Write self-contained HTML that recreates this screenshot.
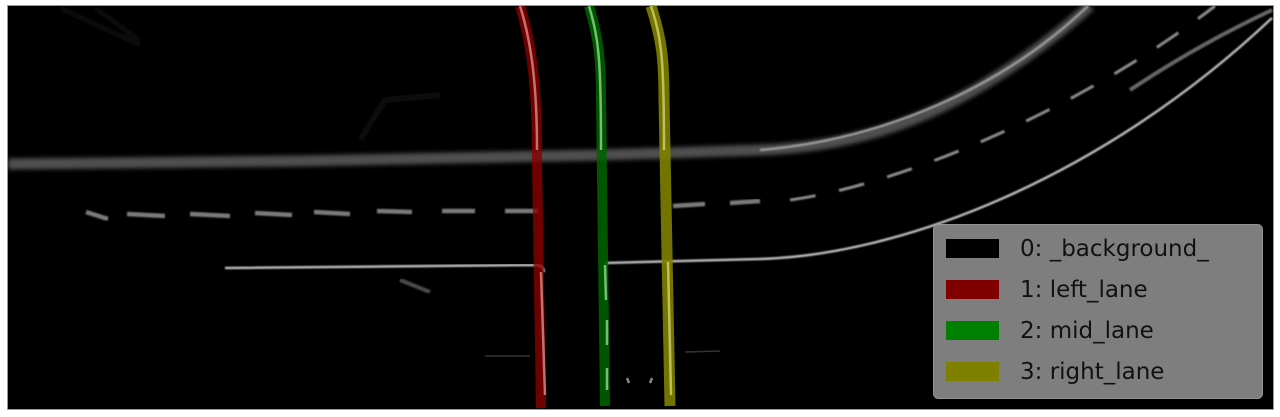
<!DOCTYPE html>
<html>
<head>
<meta charset="utf-8">
<style>
  html,body{margin:0;padding:0;background:#fff;}
  body{width:1280px;height:417px;overflow:hidden;}
  svg{display:block;}
  text{font-family:"DejaVu Sans","Liberation Sans",sans-serif;}
</style>
</head>
<body>
<svg id="chart" width="1280" height="417" viewBox="0 0 1280 417">
  <defs>
    <filter id="blur2"><feGaussianBlur stdDeviation="2"/></filter>
    <filter id="blur1"><feGaussianBlur stdDeviation="0.8"/></filter>
    <clipPath id="imgclip"><rect x="8" y="6" width="1265" height="403"/></clipPath>
  </defs>
  <rect x="7.5" y="5.5" width="1266" height="404" fill="#000" stroke="#999" stroke-width="1"/>
  <g clip-path="url(#imgclip)">
    <path d="M60 8 L140 45 M95 8 L140 40" stroke="#161616" stroke-width="3" filter="url(#blur2)"/>
    <path d="M360 140 L385 100 L440 95" stroke="#0f0f0f" stroke-width="6" fill="none" filter="url(#blur2)"/>
    <path d="M8 164 L300 161 L600 155 L760 150 C860 146 960 120 1090 6" stroke="#505050" stroke-width="11" fill="none" filter="url(#blur2)"/>
    <path d="M760 150 C880 140 1000 90 1088 6" stroke="#999" stroke-width="2.5" fill="none" filter="url(#blur1)"/>
    <g stroke="#7a7a7a" stroke-width="4.5" filter="url(#blur1)">
      <path d="M86 212 L108 219"/><path d="M127 214 L165 216"/><path d="M190 214 L230 216"/><path d="M255 213 L292 215"/>
      <path d="M314 212 L350 214"/><path d="M377 211 L412 212"/><path d="M442 211 L475 211"/><path d="M505 211 L538 211"/>
      <path d="M673 206 L705 204"/><path d="M730 203 L760 201"/>
    </g>
    <path d="M790 200 C900 185 1080 110 1215 6" stroke="#8a8a8a" stroke-width="3" stroke-dasharray="26 24" fill="none" filter="url(#blur1)"/>
    <path d="M1130 90 C1190 50 1240 25 1272 10" stroke="#666" stroke-width="4" fill="none" filter="url(#blur1)"/>
    <path d="M225 268 L538 265 Q543 266 544 272" stroke="#bbb" stroke-width="2.5" fill="none" filter="url(#blur1)"/>
    <path d="M605 263 L760 259 C900 255 1100 180 1272 18" stroke="#bbb" stroke-width="2.5" fill="none" filter="url(#blur1)"/>
    <path d="M400 280 L430 292" stroke="#4a4a4a" stroke-width="4" filter="url(#blur1)"/>
    <path d="M485 356 L530 356 M685 352 L720 351" stroke="#333" stroke-width="1.5"/>
    <path d="M627 378 L629 383 M652 378 L650 383" stroke="#888" stroke-width="2.5"/>
    <path d="M520 6 C534 50 537 100 537 160 L541 408" stroke="#8b0000" stroke-width="10" fill="none" opacity="0.8"/>
    <path d="M520 6 C534 50 537 100 537 150 M541 272 L545 395" stroke="#e8a0a0" stroke-width="2.5" fill="none" opacity="0.7"/>
    <path d="M589 6 C599 40 601 60 601 100 L605 406" stroke="#006400" stroke-width="10" fill="none" opacity="0.85"/>
    <path d="M589 6 C599 40 601 60 601 150 M605 265 L606 300 M607 320 L607 345 M607 368 L607 390" stroke="#9be29b" stroke-width="2.5" fill="none" opacity="0.75"/>
    <path d="M651 6 C662 40 664 60 664 100 L670 406" stroke="#808000" stroke-width="11" fill="none" opacity="0.9"/>
    <path d="M651 6 C662 40 664 60 664 150 M668 262 L671 395" stroke="#e0e080" stroke-width="2.5" fill="none" opacity="0.7"/>
    <g id="legend">
      <rect x="933.5" y="224.5" width="329" height="174" rx="5" fill="#838383" stroke="#999" stroke-width="1" opacity="0.97"/>
    </g>
  </g>
</svg>
<script>
const legendLabels = ["0: _background_", "1: left_lane", "2: mid_lane", "3: right_lane"];
const legendColors = ["#000000", "#800000", "#008000", "#808000"];
const legendTop = 248, legendStep = 41;
const ns = "http://www.w3.org/2000/svg";
const lg = document.getElementById("legend");
legendLabels.forEach((lab, i) => {
  const y = legendTop + i * legendStep;
  const r = document.createElementNS(ns, "rect");
  r.setAttribute("x", 946); r.setAttribute("y", y - 9);
  r.setAttribute("width", 53); r.setAttribute("height", 19);
  r.setAttribute("fill", legendColors[i]);
  
  
  lg.appendChild(r);
  const t = document.createElementNS(ns, "text");
  t.setAttribute("x", 1020); t.setAttribute("y", y + 8);
  t.setAttribute("font-size", "23"); t.setAttribute("fill", "#111");
  t.textContent = lab;
  
  
  lg.appendChild(t);
});
</script>
</body>
</html>
